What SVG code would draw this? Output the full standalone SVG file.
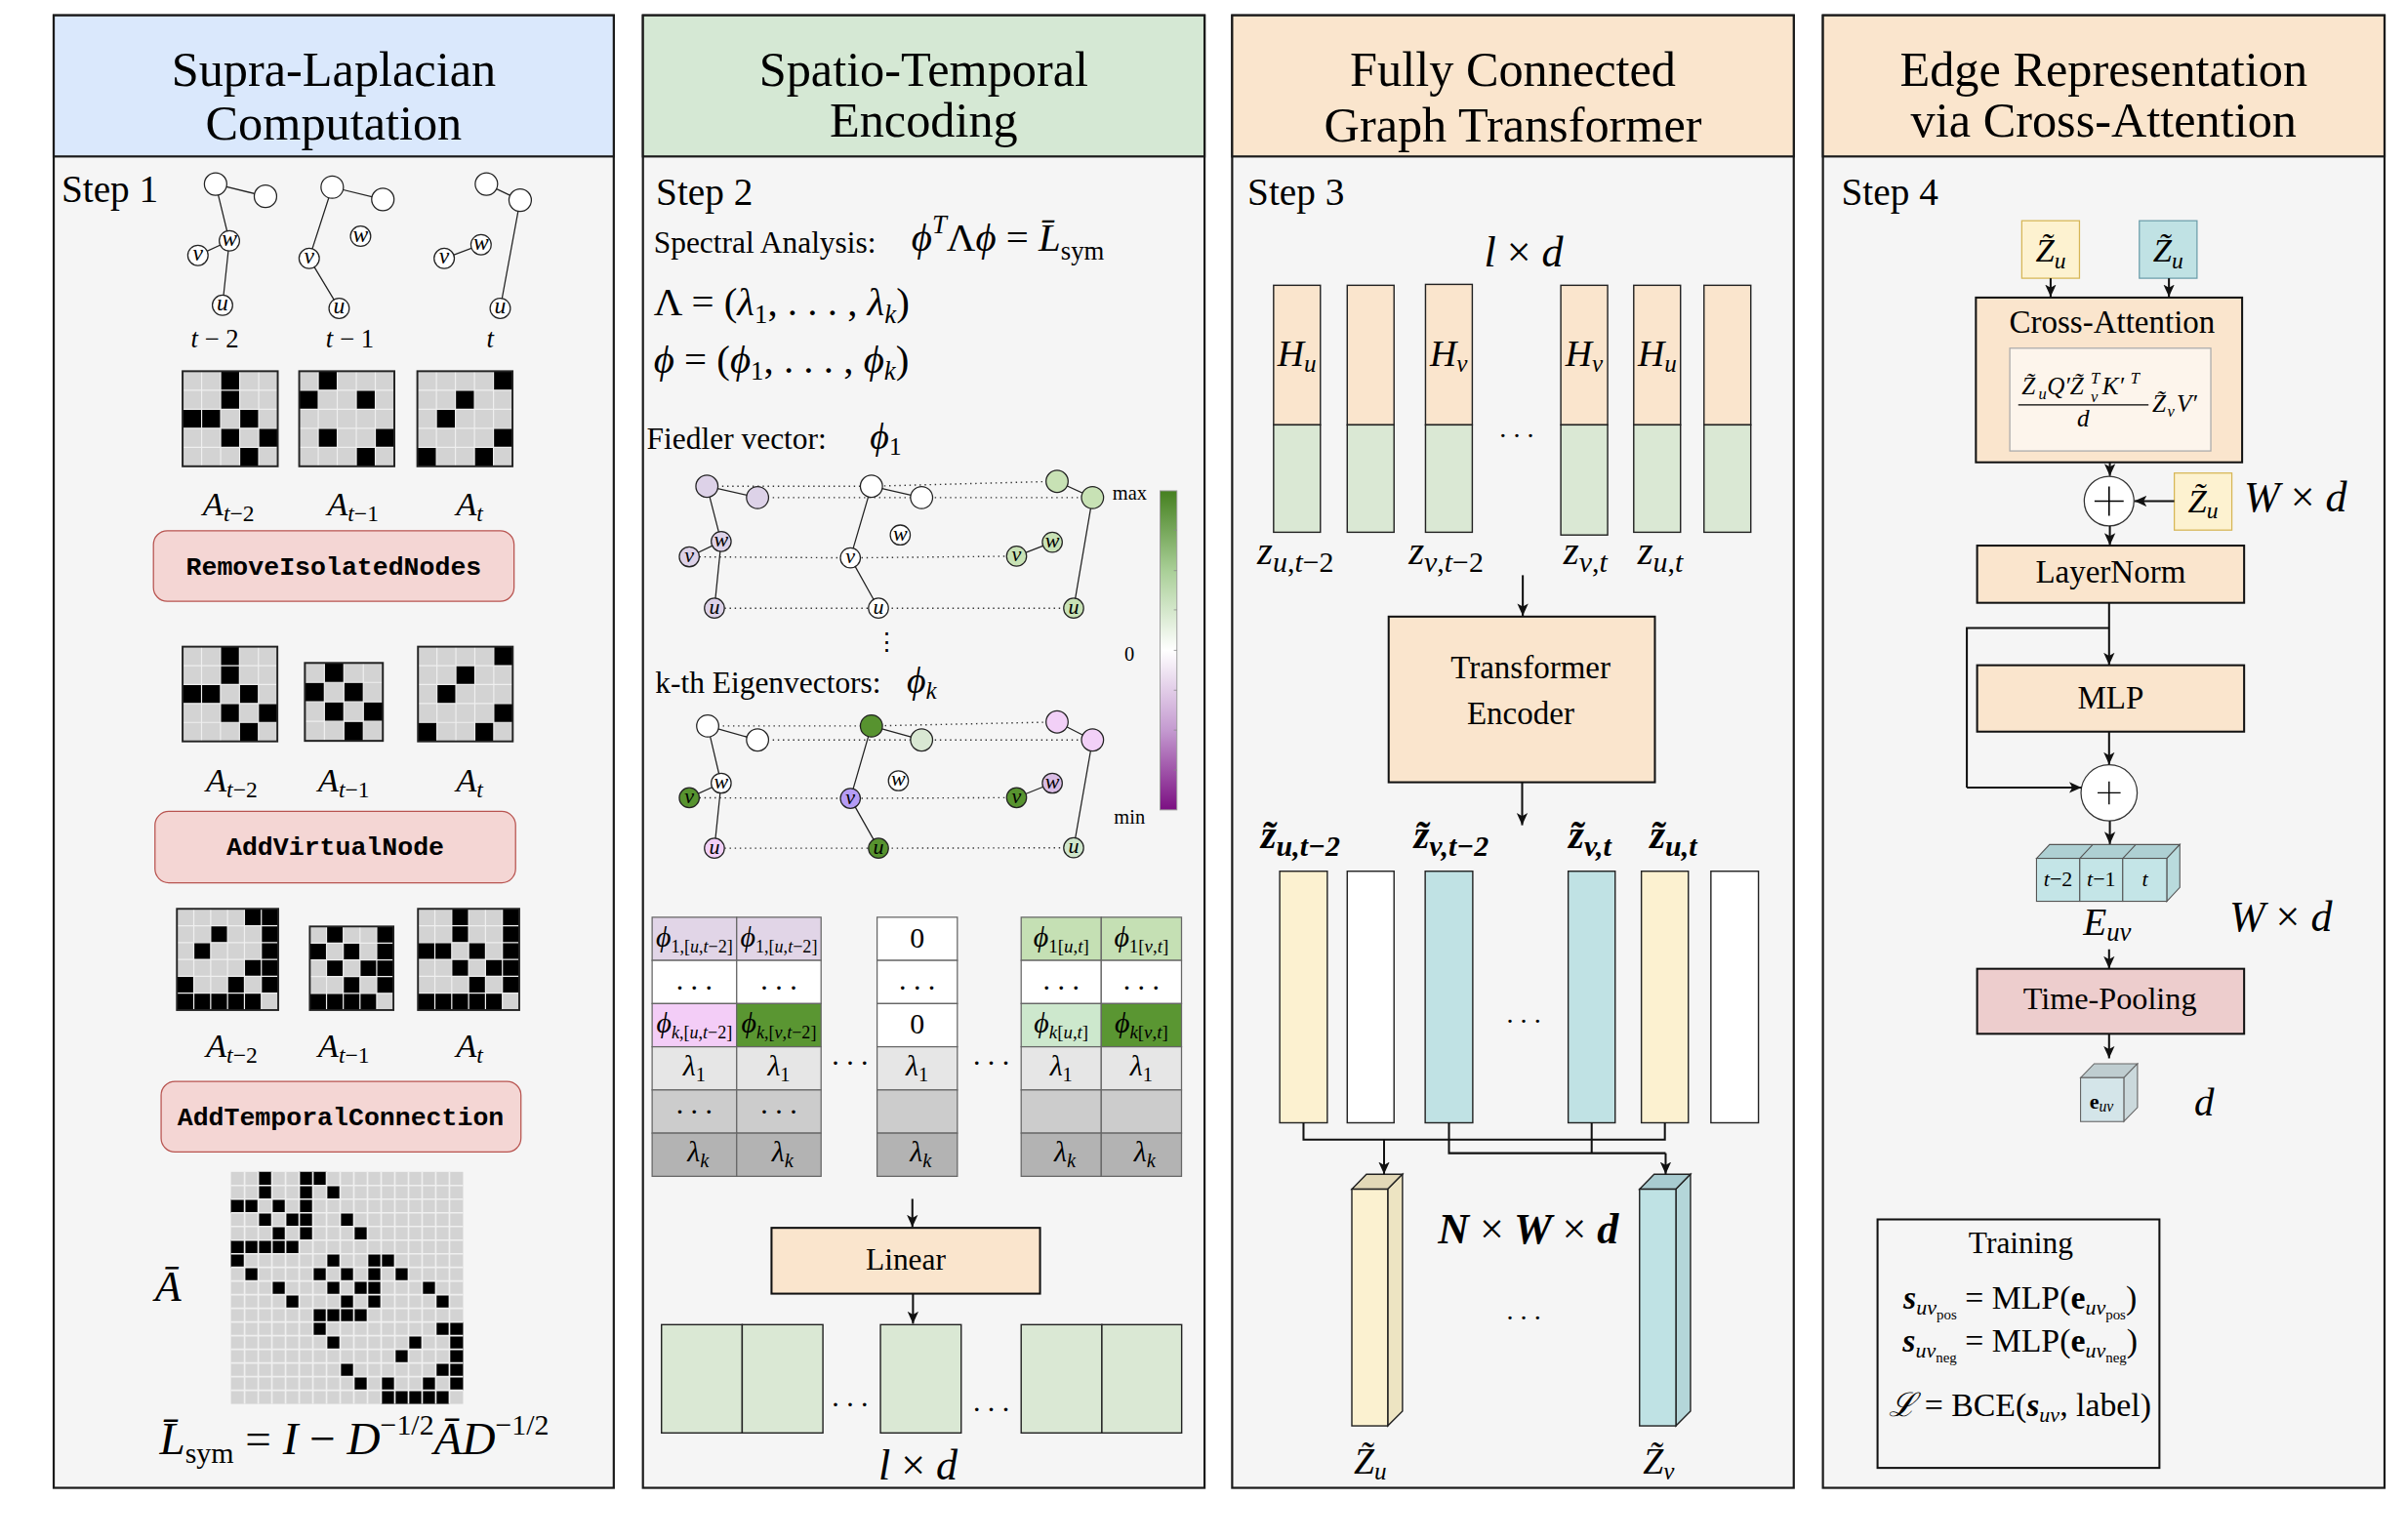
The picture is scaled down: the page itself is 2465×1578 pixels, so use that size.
<svg xmlns="http://www.w3.org/2000/svg" width="2465" height="1578" viewBox="0 0 2465 1578">
<defs>
<style>
.pbg{fill:#f5f5f5;stroke:#1a1a1a;stroke-width:1.4}
.hb{stroke:#1a1a1a;stroke-width:1.4}
text{font-family:"Liberation Serif","DejaVu Serif",serif;fill:#000}
.ht{font-size:32px;text-anchor:middle}
.st{font-size:25px}
.mono{font-family:"Liberation Mono","DejaVu Sans Mono",monospace;font-size:16.9px;font-weight:bold;text-anchor:middle}
.i{font-style:italic}
.bi{font-style:italic;font-weight:bold}
.n{font-style:normal}
.c{text-anchor:middle}
.nd{stroke:#222;stroke-width:0.8}
.ed{stroke:#222;stroke-width:0.8;fill:none}
.dt{stroke:#333;stroke-width:0.9;stroke-dasharray:0.9 2.4;fill:none}
.nl{font-size:15px;font-style:italic;text-anchor:middle}
.nl2{font-size:14px;font-style:italic;text-anchor:middle}
.pill{fill:#f4d6d4;stroke:#b85450;stroke-width:0.8}
.box{fill:#fae5cd;stroke:#111;stroke-width:1.3}
.ar{stroke:#111;stroke-width:1.3;fill:none;marker-end:url(#ah)}
.ln{stroke:#111;stroke-width:1.3;fill:none}
.gr{fill:#d3d3d3}
.bk{fill:#000}
.gl{stroke:#efefef;fill:none}
.mb{fill:none;stroke:#222}
.cell{stroke:#666;stroke-width:0.8}
.bar{stroke:#222;stroke-width:0.9}
.tc{font-size:19px;text-anchor:middle}
</style>
<marker id="ah" viewBox="0 0 10 10" refX="10" refY="5" markerWidth="8" markerHeight="8" markerUnits="userSpaceOnUse" orient="auto"><path d="M0,0.5 L10,5 L0,9.5 L2.5,5 z" fill="#111"/></marker>
<linearGradient id="cb" x1="0" y1="0" x2="0" y2="1">
<stop offset="0" stop-color="#45801f"/><stop offset="0.25" stop-color="#a9cf97"/><stop offset="0.5" stop-color="#ffffff"/><stop offset="0.75" stop-color="#c49ad0"/><stop offset="1" stop-color="#7b0f82"/>
</linearGradient>
</defs>
<rect width="2465" height="1578" fill="#ffffff"/>
<g transform="scale(1.57207,1.57171)">

<!-- PANEL 1 -->
<g id="panel1">
<rect class="pbg" x="35" y="10" width="365" height="960"/>
<rect class="hb" fill="#dae8fc" x="35" y="10" width="365" height="92"/>
<text class="ht" x="217.5" y="56">Supra-Laplacian</text>
<text class="ht" x="217.5" y="91">Computation</text>
<text class="st" x="40" y="132">Step 1</text>
</g>

<g id="graph-t-2">
<path class="ed" d="M140.5 120L173 128M140.5 120L149.5 157M149.5 157L129 166.5M149.5 157L145 199"/>
<circle class="nd" fill="#fff" cx="140.5" cy="120" r="7.3"/>
<circle class="nd" fill="#fff" cx="173" cy="128" r="7.3"/>
<circle class="nd" fill="#fff" cx="149.5" cy="157" r="6.6"/><text class="nl" x="149.5" y="160.5">w</text>
<circle class="nd" fill="#fff" cx="129" cy="166.5" r="6.6"/><text class="nl" x="129" y="170">v</text>
<circle class="nd" fill="#fff" cx="145" cy="199" r="6.6"/><text class="nl" x="145" y="202.5">u</text>
<text x="140" y="226.6" class="c" font-size="17"><tspan class="i">t</tspan> − 2</text>
</g>
<g id="graph-t-1">
<path class="ed" d="M216.5 122L249.5 130M216.5 122L201.5 168.5M201.5 168.5L221 201"/>
<circle class="nd" fill="#fff" cx="216.5" cy="122" r="7.3"/>
<circle class="nd" fill="#fff" cx="249.5" cy="130" r="7.3"/>
<circle class="nd" fill="#fff" cx="235" cy="154" r="6.6"/><text class="nl" x="235" y="157.5">w</text>
<circle class="nd" fill="#fff" cx="201.5" cy="168.5" r="6.6"/><text class="nl" x="201.5" y="172">v</text>
<circle class="nd" fill="#fff" cx="221" cy="201" r="6.6"/><text class="nl" x="221" y="204.5">u</text>
<text x="228" y="226.6" class="c" font-size="17"><tspan class="i">t</tspan> − 1</text>
</g>
<g id="graph-t">
<path class="ed" d="M317 120L339 130.5M339 130.5L326 201M289.5 168.5L313.5 159.5"/>
<circle class="nd" fill="#fff" cx="317" cy="120" r="7.3"/>
<circle class="nd" fill="#fff" cx="339" cy="130.5" r="7.3"/>
<circle class="nd" fill="#fff" cx="313.5" cy="159.5" r="6.6"/><text class="nl" x="313.5" y="163">w</text>
<circle class="nd" fill="#fff" cx="289.5" cy="168.5" r="6.6"/><text class="nl" x="289.5" y="172">v</text>
<circle class="nd" fill="#fff" cx="326" cy="201" r="6.6"/><text class="nl" x="326" y="204.5">u</text>
<text x="319.4" y="226.6" class="c i" font-size="17">t</text>
</g>

<g id="matrices-row1">
<g transform="translate(119,242) scale(12.4)">
<rect class="gr" width="5" height="5"/>
<path class="bk" d="M2 0h1v2h-1zM0 2h2v1h-2zM3 2h1v1h-1zM2 3h1v1h-1zM4 3h1v1h-1zM3 4h1v1h-1z"/>
<path class="gl" stroke-width="0.06" d="M0 1H5M0 2H5M0 3H5M0 4H5M1 0V5M2 0V5M3 0V5M4 0V5"/>
<rect class="mb" stroke-width="0.1" width="5" height="5"/>
</g>
<g transform="translate(195,242) scale(12.4)">
<rect class="gr" width="5" height="5"/>
<path class="bk" d="M1 0h1v1h-1zM0 1h1v1h-1zM3 1h1v1h-1zM1 3h1v1h-1zM4 3h1v1h-1zM3 4h1v1h-1z"/>
<path class="gl" stroke-width="0.06" d="M0 1H5M0 2H5M0 3H5M0 4H5M1 0V5M2 0V5M3 0V5M4 0V5"/>
<rect class="mb" stroke-width="0.1" width="5" height="5"/>
</g>
<g transform="translate(272,242) scale(12.4)">
<rect class="gr" width="5" height="5"/>
<path class="bk" d="M4 0h1v1h-1zM2 1h1v1h-1zM1 2h1v1h-1zM4 3h1v1h-1zM0 4h1v1h-1zM3 4h1v1h-1z"/>
<path class="gl" stroke-width="0.06" d="M0 1H5M0 2H5M0 3H5M0 4H5M1 0V5M2 0V5M3 0V5M4 0V5"/>
<rect class="mb" stroke-width="0.1" width="5" height="5"/>
</g>
<text x="149" y="336" class="c" font-size="22"><tspan class="i">A</tspan><tspan font-size="15" dy="4"><tspan class="i">t</tspan>−2</tspan></text>
<text x="230" y="336" class="c" font-size="22"><tspan class="i">A</tspan><tspan font-size="15" dy="4"><tspan class="i">t</tspan>−1</tspan></text>
<text x="306" y="336" class="c" font-size="22"><tspan class="i">A</tspan><tspan font-size="15" dy="4" class="i">t</tspan></text>
</g>

<g id="remove-isolated-nodes">
<rect class="pill" x="100" y="346" width="235" height="46" rx="9"/>
<text class="mono" x="217.5" y="375">RemoveIsolatedNodes</text>
</g>

<g id="matrices-row2">
<g transform="translate(119,421.6) scale(12.35)">
<rect class="gr" width="5" height="5"/>
<path class="bk" d="M2 0h1v2h-1zM0 2h2v1h-2zM3 2h1v1h-1zM2 3h1v1h-1zM4 3h1v1h-1zM3 4h1v1h-1z"/>
<path class="gl" stroke-width="0.06" d="M0 1H5M0 2H5M0 3H5M0 4H5M1 0V5M2 0V5M3 0V5M4 0V5"/>
<rect class="mb" stroke-width="0.1" width="5" height="5"/>
</g>
<g transform="translate(198.7,432.2) scale(12.7)">
<rect class="gr" width="4" height="4"/>
<path class="bk" d="M1 0h1v1h-1zM0 1h1v1h-1zM2 1h1v1h-1zM1 2h1v1h-1zM3 2h1v1h-1zM2 3h1v1h-1z"/>
<path class="gl" stroke-width="0.06" d="M0 1H4M0 2H4M0 3H4M1 0V4M2 0V4M3 0V4"/>
<rect class="mb" stroke-width="0.1" width="4" height="4"/>
</g>
<g transform="translate(272.4,421.6) scale(12.35)">
<rect class="gr" width="5" height="5"/>
<path class="bk" d="M4 0h1v1h-1zM2 1h1v1h-1zM1 2h1v1h-1zM4 3h1v1h-1zM0 4h1v1h-1zM3 4h1v1h-1z"/>
<path class="gl" stroke-width="0.06" d="M0 1H5M0 2H5M0 3H5M0 4H5M1 0V5M2 0V5M3 0V5M4 0V5"/>
<rect class="mb" stroke-width="0.1" width="5" height="5"/>
</g>
<text x="151" y="515.8" class="c" font-size="22"><tspan class="i">A</tspan><tspan font-size="15" dy="4"><tspan class="i">t</tspan>−2</tspan></text>
<text x="224" y="515.8" class="c" font-size="22"><tspan class="i">A</tspan><tspan font-size="15" dy="4"><tspan class="i">t</tspan>−1</tspan></text>
<text x="306" y="515.8" class="c" font-size="22"><tspan class="i">A</tspan><tspan font-size="15" dy="4" class="i">t</tspan></text>
</g>

<g id="add-virtual-node">
<rect class="pill" x="101" y="529" width="235" height="46.5" rx="9"/>
<text class="mono" x="218.5" y="557.5">AddVirtualNode</text>
</g>

<g id="matrices-row3">
<g transform="translate(115.3,592.5) scale(11)">
<rect class="gr" width="6" height="6"/>
<path class="bk" d="M4 0h2v1h-2zM2 1h1v1h-1zM5 1h1v1h-1zM1 2h1v1h-1zM5 2h1v1h-1zM4 3h2v1h-2zM0 4h1v1h-1zM3 4h1v1h-1zM5 4h1v1h-1zM0 5h5v1h-5z"/>
<path class="gl" stroke-width="0.07" d="M0 1H6M0 2H6M0 3H6M0 4H6M0 5H6M1 0V6M2 0V6M3 0V6M4 0V6M5 0V6"/>
<rect class="mb" stroke-width="0.11" width="6" height="6"/>
</g>
<g transform="translate(201.9,604) scale(10.9)">
<rect class="gr" width="5" height="5"/>
<path class="bk" d="M1 0h1v1h-1zM4 0h1v1h-1zM0 1h1v1h-1zM2 1h1v1h-1zM4 1h1v1h-1zM1 2h1v1h-1zM3 2h2v1h-2zM2 3h1v1h-1zM4 3h1v1h-1zM0 4h4v1h-4z"/>
<path class="gl" stroke-width="0.07" d="M0 1H5M0 2H5M0 3H5M0 4H5M1 0V5M2 0V5M3 0V5M4 0V5"/>
<rect class="mb" stroke-width="0.11" width="5" height="5"/>
</g>
<g transform="translate(272.4,592.5) scale(11)">
<rect class="gr" width="6" height="6"/>
<path class="bk" d="M2 0h1v2h-1zM5 0h1v3h-1zM0 2h2v1h-2zM3 2h1v1h-1zM2 3h1v1h-1zM4 3h2v1h-2zM3 4h1v1h-1zM5 4h1v1h-1zM0 5h5v1h-5z"/>
<path class="gl" stroke-width="0.07" d="M0 1H6M0 2H6M0 3H6M0 4H6M0 5H6M1 0V6M2 0V6M3 0V6M4 0V6M5 0V6"/>
<rect class="mb" stroke-width="0.11" width="6" height="6"/>
</g>
<text x="151" y="689" class="c" font-size="22"><tspan class="i">A</tspan><tspan font-size="15" dy="4"><tspan class="i">t</tspan>−2</tspan></text>
<text x="224" y="689" class="c" font-size="22"><tspan class="i">A</tspan><tspan font-size="15" dy="4"><tspan class="i">t</tspan>−1</tspan></text>
<text x="306" y="689" class="c" font-size="22"><tspan class="i">A</tspan><tspan font-size="15" dy="4" class="i">t</tspan></text>
</g>

<g id="add-temporal-connection">
<rect class="pill" x="105" y="705" width="234.5" height="46" rx="9"/>
<text class="mono" x="222" y="733.5">AddTemporalConnection</text>
</g>

<g id="supra-adjacency">
<g transform="translate(150.5,764) scale(8.9)">
<rect class="gr" width="17" height="17"/>
<path class="bk" d="M2 0h1v2h-1zM5 0h1v5h-1zM6 0h1v1h-1zM7 1h1v1h-1zM0 2h2v1h-2zM3 2h1v1h-1zM2 3h1v1h-1zM4 3h1v1h-1zM8 3h1v1h-1zM3 4h1v1h-1zM9 4h1v1h-1zM0 5h5v1h-5zM0 6h1v1h-1zM7 6h1v1h-1zM10 6h2v1h-2zM1 7h1v1h-1zM6 7h1v1h-1zM8 7h1v1h-1zM10 7h1v1h-1zM12 7h1v1h-1zM3 8h1v1h-1zM7 8h1v1h-1zM9 8h2v1h-2zM14 8h1v1h-1zM4 9h1v1h-1zM8 9h1v1h-1zM10 9h1v1h-1zM15 9h1v1h-1zM6 10h4v1h-4zM6 11h1v1h-1zM15 11h2v1h-2zM7 12h1v1h-1zM13 12h1v1h-1zM16 12h1v1h-1zM12 13h1v1h-1zM16 13h1v1h-1zM8 14h1v1h-1zM15 14h2v1h-2zM9 15h1v1h-1zM11 15h1v1h-1zM14 15h1v1h-1zM16 15h1v1h-1zM11 16h5v1h-5z"/>
<path class="gl" stroke-width="0.12" d="M0 1H17M0 2H17M0 3H17M0 4H17M0 5H17M0 6H17M0 7H17M0 8H17M0 9H17M0 10H17M0 11H17M0 12H17M0 13H17M0 14H17M0 15H17M0 16H17M1 0V17M2 0V17M3 0V17M4 0V17M5 0V17M6 0V17M7 0V17M8 0V17M9 0V17M10 0V17M11 0V17M12 0V17M13 0V17M14 0V17M15 0V17M16 0V17"/>
</g>
<text x="101" y="848" class="i" font-size="28">Ā</text>
<text x="104" y="948" font-size="30"><tspan class="i">L̄</tspan><tspan font-size="19" dy="6">sym</tspan><tspan dy="-6"> = </tspan><tspan class="i">I</tspan> − <tspan class="i">D</tspan><tspan font-size="19" dy="-13">−1/2</tspan><tspan dy="13" class="i">ĀD</tspan><tspan font-size="19" dy="-13">−1/2</tspan></text>
</g>

<!-- PANEL 2 -->
<g id="panel2">
<rect class="pbg" x="419" y="10" width="366" height="960"/>
<rect class="hb" fill="#d5e8d4" x="419" y="10" width="366" height="92"/>
<text class="ht" x="602" y="56">Spatio-Temporal</text>
<text class="ht" x="602" y="89">Encoding</text>
<text class="st" x="427.5" y="133.6">Step 2</text>
</g>

<g id="spectral-analysis">
<text x="426" y="165" font-size="20">Spectral Analysis:</text>
<text x="594" y="163.3" font-size="26"><tspan class="i">ϕ</tspan><tspan font-size="17" dy="-11" class="i">T</tspan><tspan dy="11">Λ</tspan><tspan class="i">ϕ</tspan> = <tspan class="i">L̄</tspan><tspan font-size="17" dy="6">sym</tspan></text>
<text x="426" y="205.6" font-size="26">Λ = (<tspan class="i">λ</tspan><tspan font-size="17" dy="5">1</tspan><tspan dy="-5">, . . . , </tspan><tspan class="i">λ</tspan><tspan font-size="17" dy="5" class="i">k</tspan><tspan dy="-5">)</tspan></text>
<text x="426" y="242.8" font-size="26"><tspan class="i">ϕ</tspan> = (<tspan class="i">ϕ</tspan><tspan font-size="17" dy="5">1</tspan><tspan dy="-5">, . . . , </tspan><tspan class="i">ϕ</tspan><tspan font-size="17" dy="5" class="i">k</tspan><tspan dy="-5">)</tspan></text>
</g>

<g id="fiedler-vector">
<text x="421.5" y="292.6" font-size="20">Fiedler vector:</text>
<text x="567" y="292.6" font-size="24"><tspan class="i">ϕ</tspan><tspan font-size="16" dy="4">1</tspan></text>
<path class="dt" d="M460.7 317L567.9 317L688.9 313.8M493.7 324.4L712 324.4M449.2 363L554.2 363.7L662.5 362.6M465.6 396.5L699.7 396.5"/>
<path class="ed" d="M460.7 317L493.7 324.4M460.7 317L470 353M470 353L449.2 363M470 353L465.6 396.5M567.9 317L600.6 324.4M567.9 317L554.2 363.7M554.2 363.7L572.5 396.5M688.9 313.8L712 324.4M712 324.4L699.7 396.5M662.5 362.6L685.8 353.5"/>
<circle class="nd" fill="#ddd2e8" cx="460.7" cy="317" r="7.2"/>
<circle class="nd" fill="#ddd2e8" cx="493.7" cy="324.4" r="7.2"/>
<circle class="nd" fill="#ddd2e8" cx="470" cy="353" r="6.5"/><text class="nl2" x="470" y="356.5">w</text>
<circle class="nd" fill="#ddd2e8" cx="449.2" cy="363" r="6.5"/><text class="nl2" x="449.2" y="366.5">v</text>
<circle class="nd" fill="#ddd2e8" cx="465.6" cy="396.5" r="6.5"/><text class="nl2" x="465.6" y="400">u</text>
<circle class="nd" fill="#fff" cx="567.9" cy="317" r="7.2"/>
<circle class="nd" fill="#fff" cx="600.6" cy="324.4" r="7.2"/>
<circle class="nd" fill="#fff" cx="586.7" cy="348.8" r="6.5"/><text class="nl2" x="586.7" y="352.3">w</text>
<circle class="nd" fill="#fff" cx="554.2" cy="363.7" r="6.5"/><text class="nl2" x="554.2" y="367.2">v</text>
<circle class="nd" fill="#fff" cx="572.5" cy="396.5" r="6.5"/><text class="nl2" x="572.5" y="400">u</text>
<circle class="nd" fill="#c8e2b5" cx="688.9" cy="313.8" r="7.2"/>
<circle class="nd" fill="#c8e2b5" cx="712" cy="324.4" r="7.2"/>
<circle class="nd" fill="#c8e2b5" cx="685.8" cy="353.5" r="6.5"/><text class="nl2" x="685.8" y="357">w</text>
<circle class="nd" fill="#c8e2b5" cx="662.5" cy="362.6" r="6.5"/><text class="nl2" x="662.5" y="366.1">v</text>
<circle class="nd" fill="#c8e2b5" cx="699.7" cy="396.5" r="6.5"/><text class="nl2" x="699.7" y="400">u</text>
<text x="578" y="424" class="c" font-size="16">⋮</text>
</g>

<g id="colorbar">
<rect x="756" y="320" width="11" height="208" fill="url(#cb)" stroke="#999" stroke-width="0.6"/>
<path stroke="#888" stroke-width="0.5" d="M765 345.6H767M765 372H767M765 397.6H767M765 424H767M765 450H767M765 476H767M765 502H767"/>
<text x="725" y="325.5" font-size="13">max</text>
<text x="736" y="431" class="c" font-size="13">0</text>
<text x="726" y="537" font-size="13">min</text>
</g>

<g id="kth-eigenvectors">
<text x="427" y="451.6" font-size="20">k-th Eigenvectors:</text>
<text x="591" y="451.6" font-size="24"><tspan class="i">ϕ</tspan><tspan font-size="16" dy="4" class="i">k</tspan></text>
<path class="dt" d="M461.2 473.3L567.9 473.3L688.9 470.7M493.7 482.4L712 482.4M449.2 520.1L554.2 520.5L662.5 520M465.6 553L572.5 553L699.7 552.7"/>
<path class="ed" d="M461.2 473.3L493.7 482.4M461.2 473.3L470 510.6M470 510.6L449.2 520.1M470 510.6L465.6 553M567.9 473.3L600.6 482.4M567.9 473.3L554.2 520.5M554.2 520.5L572.5 553M688.9 470.7L712 482.4M712 482.4L699.7 552.7M662.5 520L685.8 510.6"/>
<circle class="nd" fill="#fff" cx="461.2" cy="473.3" r="7.2"/>
<circle class="nd" fill="#fff" cx="493.7" cy="482.4" r="7.2"/>
<circle class="nd" fill="#fff" cx="470" cy="510.6" r="6.5"/><text class="nl2" x="470" y="514.1">w</text>
<circle class="nd" fill="#57932f" cx="449.2" cy="520.1" r="6.5"/><text class="nl2" x="449.2" y="523.6">v</text>
<circle class="nd" fill="#f2d0f7" cx="465.6" cy="553" r="6.5"/><text class="nl2" x="465.6" y="556.5">u</text>
<circle class="nd" fill="#57932f" cx="567.9" cy="473.3" r="7.2"/>
<circle class="nd" fill="#d9e8d3" cx="600.6" cy="482.4" r="7.2"/>
<circle class="nd" fill="#fff" cx="585.5" cy="509" r="6.5"/><text class="nl2" x="585.5" y="512.5">w</text>
<circle class="nd" fill="#b59cf5" cx="554.2" cy="520.5" r="6.5"/><text class="nl2" x="554.2" y="524">v</text>
<circle class="nd" fill="#57932f" cx="572.5" cy="553" r="6.5"/><text class="nl2" x="572.5" y="556.5">u</text>
<circle class="nd" fill="#f2d0f7" cx="688.9" cy="470.7" r="7.2"/>
<circle class="nd" fill="#f2d0f7" cx="712" cy="482.4" r="7.2"/>
<circle class="nd" fill="#d9bce4" cx="685.8" cy="510.6" r="6.5"/><text class="nl2" x="685.8" y="514.1">w</text>
<circle class="nd" fill="#57932f" cx="662.5" cy="520" r="6.5"/><text class="nl2" x="662.5" y="523.5">v</text>
<circle class="nd" fill="#cfe6cb" cx="699.7" cy="552.7" r="6.5"/><text class="nl2" x="699.7" y="556.2">u</text>
</g>

<g id="encoding-table-left">
<rect class="cell" fill="#e1d5e7" x="425" y="598" width="55.1" height="28.15"/>
<rect class="cell" fill="#e1d5e7" x="480.1" y="598" width="55" height="28.15"/>
<rect class="cell" fill="#fff" x="425" y="626.15" width="55.1" height="28.15"/>
<rect class="cell" fill="#fff" x="480.1" y="626.15" width="55" height="28.15"/>
<rect class="cell" fill="#f3cdf7" x="425" y="654.3" width="55.1" height="28.15"/>
<rect class="cell" fill="#5a9632" x="480.1" y="654.3" width="55" height="28.15"/>
<rect class="cell" fill="#e6e6e6" x="425" y="682.45" width="55.1" height="28.15"/>
<rect class="cell" fill="#e6e6e6" x="480.1" y="682.45" width="55" height="28.15"/>
<rect class="cell" fill="#cccccc" x="425" y="710.6" width="55.1" height="28.15"/>
<rect class="cell" fill="#cccccc" x="480.1" y="710.6" width="55" height="28.15"/>
<rect class="cell" fill="#b3b3b3" x="425" y="738.75" width="55.1" height="28.15"/>
<rect class="cell" fill="#b3b3b3" x="480.1" y="738.75" width="55" height="28.15"/>
<text class="tc" x="452.5" y="617"><tspan class="i">ϕ</tspan><tspan font-size="11.5" dy="4">1,[<tspan class="i">u</tspan>,<tspan class="i">t</tspan>−2]</tspan></text>
<text class="tc" x="507.6" y="617"><tspan class="i">ϕ</tspan><tspan font-size="11.5" dy="4">1,[<tspan class="i">u</tspan>,<tspan class="i">t</tspan>−2]</tspan></text>
<text class="tc" x="452.5" y="645">. . .</text>
<text class="tc" x="507.6" y="645">. . .</text>
<text class="tc" x="452.5" y="673"><tspan class="i">ϕ</tspan><tspan font-size="11.5" dy="4"><tspan class="i">k</tspan>,[<tspan class="i">u</tspan>,<tspan class="i">t</tspan>−2]</tspan></text>
<text class="tc" x="507.6" y="673"><tspan class="i">ϕ</tspan><tspan font-size="11.5" dy="4"><tspan class="i">k</tspan>,[<tspan class="i">v</tspan>,<tspan class="i">t</tspan>−2]</tspan></text>
<text class="tc" x="452.5" y="701"><tspan class="i">λ</tspan><tspan font-size="13" dy="4">1</tspan></text>
<text class="tc" x="507.6" y="701"><tspan class="i">λ</tspan><tspan font-size="13" dy="4">1</tspan></text>
<text class="tc" x="452.5" y="726">. . .</text>
<text class="tc" x="507.6" y="726">. . .</text>
<text class="tc" x="455" y="757"><tspan class="i">λ</tspan><tspan font-size="13" dy="4" class="i">k</tspan></text>
<text class="tc" x="510" y="757"><tspan class="i">λ</tspan><tspan font-size="13" dy="4" class="i">k</tspan></text>
</g>
<g id="encoding-table-mid">
<rect class="cell" fill="#fff" x="571.6" y="598" width="52.3" height="28.15"/>
<rect class="cell" fill="#fff" x="571.6" y="626.15" width="52.3" height="28.15"/>
<rect class="cell" fill="#fff" x="571.6" y="654.3" width="52.3" height="28.15"/>
<rect class="cell" fill="#e6e6e6" x="571.6" y="682.45" width="52.3" height="28.15"/>
<rect class="cell" fill="#cccccc" x="571.6" y="710.6" width="52.3" height="28.15"/>
<rect class="cell" fill="#b3b3b3" x="571.6" y="738.75" width="52.3" height="28.15"/>
<text class="tc" x="597.7" y="618">0</text>
<text class="tc" x="597.7" y="645">. . .</text>
<text class="tc" x="597.7" y="674">0</text>
<text class="tc" x="597.7" y="701"><tspan class="i">λ</tspan><tspan font-size="13" dy="4">1</tspan></text>
<text class="tc" x="600" y="757"><tspan class="i">λ</tspan><tspan font-size="13" dy="4" class="i">k</tspan></text>
</g>
<g id="encoding-table-right">
<rect class="cell" fill="#c5e0b4" x="665.5" y="598" width="52.2" height="28.15"/>
<rect class="cell" fill="#c5e0b4" x="717.7" y="598" width="52.3" height="28.15"/>
<rect class="cell" fill="#fff" x="665.5" y="626.15" width="52.2" height="28.15"/>
<rect class="cell" fill="#fff" x="717.7" y="626.15" width="52.3" height="28.15"/>
<rect class="cell" fill="#cde8cd" x="665.5" y="654.3" width="52.2" height="28.15"/>
<rect class="cell" fill="#5a9632" x="717.7" y="654.3" width="52.3" height="28.15"/>
<rect class="cell" fill="#e6e6e6" x="665.5" y="682.45" width="52.2" height="28.15"/>
<rect class="cell" fill="#e6e6e6" x="717.7" y="682.45" width="52.3" height="28.15"/>
<rect class="cell" fill="#cccccc" x="665.5" y="710.6" width="52.2" height="28.15"/>
<rect class="cell" fill="#cccccc" x="717.7" y="710.6" width="52.3" height="28.15"/>
<rect class="cell" fill="#b3b3b3" x="665.5" y="738.75" width="52.2" height="28.15"/>
<rect class="cell" fill="#b3b3b3" x="717.7" y="738.75" width="52.3" height="28.15"/>
<text class="tc" x="691.6" y="617"><tspan class="i">ϕ</tspan><tspan font-size="12" dy="4">1[<tspan class="i">u</tspan>,<tspan class="i">t</tspan>]</tspan></text>
<text class="tc" x="743.8" y="617"><tspan class="i">ϕ</tspan><tspan font-size="12" dy="4">1[<tspan class="i">v</tspan>,<tspan class="i">t</tspan>]</tspan></text>
<text class="tc" x="691.6" y="645">. . .</text>
<text class="tc" x="743.8" y="645">. . .</text>
<text class="tc" x="691.6" y="673"><tspan class="i">ϕ</tspan><tspan font-size="12" dy="4"><tspan class="i">k</tspan>[<tspan class="i">u</tspan>,<tspan class="i">t</tspan>]</tspan></text>
<text class="tc" x="743.8" y="673"><tspan class="i">ϕ</tspan><tspan font-size="12" dy="4"><tspan class="i">k</tspan>[<tspan class="i">v</tspan>,<tspan class="i">t</tspan>]</tspan></text>
<text class="tc" x="691.6" y="701"><tspan class="i">λ</tspan><tspan font-size="13" dy="4">1</tspan></text>
<text class="tc" x="743.8" y="701"><tspan class="i">λ</tspan><tspan font-size="13" dy="4">1</tspan></text>
<text class="tc" x="694" y="757"><tspan class="i">λ</tspan><tspan font-size="13" dy="4" class="i">k</tspan></text>
<text class="tc" x="746" y="757"><tspan class="i">λ</tspan><tspan font-size="13" dy="4" class="i">k</tspan></text>
</g>
<text class="tc" x="554" y="694">. . .</text>
<text class="tc" x="646" y="694">. . .</text>

<g id="linear">
<rect class="box" x="502.8" y="800.5" width="175" height="42.9"/>
<text x="590.3" y="828" class="c" font-size="20">Linear</text>
</g>

<g id="encoded-tokens">
<rect class="bar" fill="#dae8d4" x="431.1" y="863.6" width="52.6" height="70.6"/>
<rect class="bar" fill="#dae8d4" x="483.7" y="863.6" width="52.6" height="70.6"/>
<rect class="bar" fill="#dae8d4" x="573.8" y="863.6" width="52.6" height="70.6"/>
<rect class="bar" fill="#dae8d4" x="665.5" y="863.6" width="52.6" height="70.6"/>
<rect class="bar" fill="#dae8d4" x="718.1" y="863.6" width="52" height="70.6"/>
<text class="tc" x="554" y="917">. . .</text>
<text class="tc" x="646" y="920">. . .</text>
<text x="598.3" y="964.5" class="c" font-size="28"><tspan class="i">l</tspan> × <tspan class="i">d</tspan></text>
</g>

<!-- PANEL 3 -->
<g id="panel3">
<rect class="pbg" x="803" y="10" width="366" height="960"/>
<rect class="hb" fill="#fae5cd" x="803" y="10" width="366" height="92"/>
<text class="ht" x="986" y="56">Fully Connected</text>
<text class="ht" x="986" y="92">Graph Transformer</text>
<text class="st" x="813" y="133.6">Step 3</text>
<text x="993" y="173.4" class="c" font-size="28"><tspan class="i">l</tspan> × <tspan class="i">d</tspan></text>
</g>

<g id="input-tokens">
<rect class="bar" fill="#fae5cd" x="830" y="186" width="30.5" height="91"/><rect class="bar" fill="#dae8d4" x="830" y="277" width="30.5" height="70"/>
<rect class="bar" fill="#fae5cd" x="878" y="186" width="30.5" height="91"/><rect class="bar" fill="#dae8d4" x="878" y="277" width="30.5" height="70"/>
<rect class="bar" fill="#fae5cd" x="929" y="185.4" width="30.5" height="91.6"/><rect class="bar" fill="#dae8d4" x="929" y="277" width="30.5" height="70"/>
<rect class="bar" fill="#fae5cd" x="1017.2" y="186" width="30.5" height="91"/><rect class="bar" fill="#dae8d4" x="1017.2" y="277" width="30.5" height="71.8"/>
<rect class="bar" fill="#fae5cd" x="1064.7" y="186" width="30.5" height="91"/><rect class="bar" fill="#dae8d4" x="1064.7" y="277" width="30.5" height="70"/>
<rect class="bar" fill="#fae5cd" x="1110.5" y="186" width="30.5" height="91"/><rect class="bar" fill="#dae8d4" x="1110.5" y="277" width="30.5" height="70"/>
<text x="845.2" y="238.5" class="c" font-size="24"><tspan class="i">H</tspan><tspan font-size="16" dy="4" class="i">u</tspan></text>
<text x="944.2" y="238.5" class="c" font-size="24"><tspan class="i">H</tspan><tspan font-size="16" dy="4" class="i">v</tspan></text>
<text x="1032.4" y="238.5" class="c" font-size="24"><tspan class="i">H</tspan><tspan font-size="16" dy="4" class="i">v</tspan></text>
<text x="1080" y="238.5" class="c" font-size="24"><tspan class="i">H</tspan><tspan font-size="16" dy="4" class="i">u</tspan></text>
<text x="988.5" y="285" class="c" font-size="18">. . .</text>
<text x="844.3" y="367.7" class="c" font-size="26"><tspan class="i">z</tspan><tspan font-size="19" dy="5"><tspan class="i">u</tspan>,<tspan class="i">t</tspan>−2</tspan></text>
<text x="942.4" y="367.7" class="c" font-size="26"><tspan class="i">z</tspan><tspan font-size="19" dy="5"><tspan class="i">v</tspan>,<tspan class="i">t</tspan></tspan><tspan font-size="19">−2</tspan></text>
<text x="1033.2" y="367.7" class="c" font-size="26"><tspan class="i">z</tspan><tspan font-size="19" dy="5"><tspan class="i">v</tspan>,<tspan class="i">t</tspan></tspan></text>
<text x="1082" y="367.7" class="c" font-size="26"><tspan class="i">z</tspan><tspan font-size="19" dy="5"><tspan class="i">u</tspan>,<tspan class="i">t</tspan></tspan></text>
</g>

<g id="transformer-encoder">
<rect class="box" x="905" y="402" width="173.5" height="108"/>
<text x="997.5" y="442" class="c" font-size="21">Transformer</text>
<text x="991" y="472" class="c" font-size="21">Encoder</text>
</g>

<g id="output-tokens">
<text x="847.5" y="552.7" class="c bi" font-size="26">z̃<tspan font-size="19" dy="5">u,t−2</tspan></text>
<text x="945.8" y="552.7" class="c bi" font-size="26">z̃<tspan font-size="19" dy="5">v,t−2</tspan></text>
<text x="1036.2" y="552.7" class="c bi" font-size="26">z̃<tspan font-size="19" dy="5">v,t</tspan></text>
<text x="1090.5" y="552.7" class="c bi" font-size="26">z̃<tspan font-size="19" dy="5">u,t</tspan></text>
<rect class="bar" fill="#fcf1d0" x="834" y="568" width="31" height="164"/>
<rect class="bar" fill="#ffffff" x="878" y="568" width="30.5" height="164"/>
<rect class="bar" fill="#c0e2e4" x="928.8" y="568" width="31" height="164"/>
<rect class="bar" fill="#c0e2e4" x="1022" y="568" width="30.6" height="164"/>
<rect class="bar" fill="#fcf1d0" x="1069.7" y="568" width="30.6" height="164"/>
<rect class="bar" fill="#ffffff" x="1115" y="568" width="31" height="164"/>
<text x="993" y="667" class="c" font-size="18">. . .</text>
</g>

<g id="Zu-tensor">
<polygon points="881,775.3 890.5,765.6 914,765.6 904.4,775.3" fill="#e3d9b8" stroke="#222" stroke-width="0.9"/>
<polygon points="904.4,775.3 914,765.6 914,920 904.4,929.6" fill="#ede4c2" stroke="#222" stroke-width="0.9"/>
<rect x="881" y="775.3" width="23.4" height="154.3" fill="#fbf1d0" stroke="#222" stroke-width="0.9"/>
<text x="893" y="960.5" class="c" font-size="24"><tspan class="i">Z̃</tspan><tspan font-size="16" dy="4" class="i">u</tspan></text>
</g>
<g id="Zv-tensor">
<polygon points="1068.5,775.3 1078,765.6 1101.7,765.6 1092.2,775.3" fill="#a8cbd0" stroke="#222" stroke-width="0.9"/>
<polygon points="1092.2,775.3 1101.7,765.6 1101.7,920 1092.2,929.6" fill="#b4d6d9" stroke="#222" stroke-width="0.9"/>
<rect x="1068.5" y="775.3" width="23.7" height="154.3" fill="#bfe2e4" stroke="#222" stroke-width="0.9"/>
<text x="1081" y="960.5" class="c" font-size="24"><tspan class="i">Z̃</tspan><tspan font-size="16" dy="4" class="i">v</tspan></text>
</g>
<text x="996" y="810.6" class="c bi" font-size="28">N <tspan class="n" font-weight="normal">×</tspan> W <tspan class="n" font-weight="normal">×</tspan> d</text>
<text x="993" y="860" class="c" font-size="18">. . .</text>

<!-- PANEL 4 -->
<g id="panel4">
<rect class="pbg" x="1188" y="10" width="366" height="960"/>
<rect class="hb" fill="#fae5cd" x="1188" y="10" width="366" height="92"/>
<text class="ht" x="1371" y="56">Edge Representation</text>
<text class="ht" x="1371" y="89">via Cross-Attention</text>
<text class="st" x="1200" y="133.6">Step 4</text>
</g>

<g id="Zu-input">
<rect x="1317.6" y="143.9" width="37.6" height="37.5" fill="#fdf2d0" stroke="#d6b656" stroke-width="0.8"/>
<text x="1336.4" y="170.8" class="c" font-size="22"><tspan class="i">Z̃</tspan><tspan font-size="15" dy="4" class="i">u</tspan></text>
</g>
<g id="Zv-input">
<rect x="1394.2" y="143.9" width="37.6" height="37.5" fill="#c0e2e4" stroke="#6c9eab" stroke-width="0.8"/>
<text x="1413" y="170.8" class="c" font-size="22"><tspan class="i">Z̃</tspan><tspan font-size="15" dy="4" class="i">u</tspan></text>
</g>

<g id="cross-attention">
<rect class="box" x="1287.7" y="194" width="173.5" height="107.4"/>
<text x="1376.5" y="217.2" class="c" font-size="21">Cross-Attention</text>
<rect x="1309.8" y="227" width="131" height="67" fill="#fdf5ec" stroke="#aaa" stroke-width="0.8"/>
<text x="1317.5" y="257" class="i" font-size="16">Z̃</text>
<text x="1328.5" y="260" class="i" font-size="10.5">u</text>
<text x="1334" y="257" class="i" font-size="16">Q′Z̃</text>
<text x="1362.5" y="250" class="i" font-size="10.5">T</text>
<text x="1362.5" y="262" class="i" font-size="10.5">v</text>
<text x="1370" y="257" class="i" font-size="16">K′</text>
<text x="1388.5" y="250" class="i" font-size="10.5">T</text>
<line x1="1315.3" y1="264" x2="1400.2" y2="264" stroke="#000" stroke-width="0.8"/>
<text x="1357.7" y="278.2" class="c i" font-size="16">d</text>
<text x="1402.6" y="268.5" class="i" font-size="16">Z̃</text>
<text x="1412.5" y="271.5" class="i" font-size="10.5">v</text>
<text x="1418.5" y="268.5" class="i" font-size="16">V′</text>
</g>

<g id="add-1">
<circle cx="1374.5" cy="326.7" r="16.2" fill="#fff" stroke="#333" stroke-width="0.8"/>
<path d="M1365 326.7H1384M1374.5 317.2V336.2" stroke="#000" stroke-width="1"/>
</g>
<g id="Zu-residual">
<rect x="1417" y="308.4" width="37.5" height="37.2" fill="#fdf2d0" stroke="#d6b656" stroke-width="0.8"/>
<text x="1435.7" y="334" class="c" font-size="22"><tspan class="i">Z̃</tspan><tspan font-size="15" dy="4" class="i">u</tspan></text>
</g>
<text x="1462.4" y="333.4" font-size="28"><tspan class="i">W</tspan> × <tspan class="i">d</tspan></text>

<g id="layernorm">
<rect class="box" x="1288.5" y="355.7" width="174" height="37.3"/>
<text x="1375.5" y="380" class="c" font-size="21">LayerNorm</text>
</g>
<g id="mlp">
<rect class="box" x="1288.5" y="433.7" width="174" height="43.3"/>
<text x="1375.5" y="462" class="c" font-size="21">MLP</text>
</g>
<g id="add-2">
<circle cx="1374.5" cy="516.9" r="18.3" fill="#fff" stroke="#333" stroke-width="0.8"/>
<path d="M1367 516.9H1382M1374.5 509.4V524.4" stroke="#000" stroke-width="0.9"/>
</g>

<g id="E-uv">
<polygon points="1327.2,559.6 1335.7,550.6 1420.6,550.6 1412.1,559.6" fill="#aed0d3" stroke="#555" stroke-width="0.7"/>
<polygon points="1412.1,559.6 1420.6,550.6 1420.6,578.6 1412.1,587.6" fill="#b9dbdd" stroke="#555" stroke-width="0.7"/>
<rect x="1327.2" y="559.6" width="28.2" height="28" fill="#c4e5e7" stroke="#555" stroke-width="0.7"/>
<rect x="1355.4" y="559.6" width="28" height="28" fill="#c4e5e7" stroke="#555" stroke-width="0.7"/>
<rect x="1383.4" y="559.6" width="28.7" height="28" fill="#c4e5e7" stroke="#555" stroke-width="0.7"/>
<path d="M1355.4 559.6L1363.9 550.6M1383.4 559.6L1391.9 550.6" stroke="#555" stroke-width="0.7"/>
<text x="1341.3" y="578" class="c" font-size="14"><tspan class="i">t</tspan>−2</text>
<text x="1369.4" y="578" class="c" font-size="14"><tspan class="i">t</tspan>−1</text>
<text x="1397.8" y="578" class="c i" font-size="14">t</text>
<text x="1357.6" y="609.4" font-size="25"><tspan class="i">E</tspan><tspan font-size="17" dy="4" class="i">uv</tspan></text>
</g>
<text x="1452.8" y="607.3" font-size="28"><tspan class="i">W</tspan> × <tspan class="i">d</tspan></text>

<g id="time-pooling">
<rect x="1288.5" y="631.6" width="174" height="42.4" fill="#edcdcd" stroke="#111" stroke-width="1.3"/>
<text x="1375" y="658.1" class="c" font-size="20.5">Time-Pooling</text>
</g>

<g id="e-uv">
<polygon points="1355.9,702.6 1364.8,693.5 1393,693.5 1384.1,702.6" fill="#bfcdd0" stroke="#666" stroke-width="0.7"/>
<polygon points="1384.1,702.6 1393,693.5 1393,722 1384.1,731.2" fill="#cbd9dc" stroke="#666" stroke-width="0.7"/>
<rect x="1355.9" y="702.6" width="28.2" height="28.6" fill="#d4e5e9" stroke="#666" stroke-width="0.7"/>
<text x="1369.5" y="722.7" class="c" font-size="14"><tspan font-weight="bold">e</tspan><tspan class="i" font-size="10" dy="2">uv</tspan></text>
</g>
<text x="1430" y="727" class="i" font-size="26">d</text>

<g id="training">
<rect x="1223.6" y="795" width="183.7" height="162" fill="none" stroke="#111" stroke-width="1.3"/>
<text x="1317" y="817.1" class="c" font-size="20">Training</text>
<text x="1316.5" y="853" class="c" font-size="21.5"><tspan class="bi">s</tspan><tspan class="i" font-size="14" dy="4">uv</tspan><tspan font-size="9.5" dy="3">pos</tspan><tspan dy="-7"> = MLP(</tspan><tspan font-weight="bold">e</tspan><tspan class="i" font-size="14" dy="4">uv</tspan><tspan font-size="9.5" dy="3">pos</tspan><tspan dy="-7">)</tspan></text>
<text x="1316.5" y="881.3" class="c" font-size="21.5"><tspan class="bi">s</tspan><tspan class="i" font-size="14" dy="4">uv</tspan><tspan font-size="9.5" dy="3">neg</tspan><tspan dy="-7"> = MLP(</tspan><tspan font-weight="bold">e</tspan><tspan class="i" font-size="14" dy="4">uv</tspan><tspan font-size="9.5" dy="3">neg</tspan><tspan dy="-7">)</tspan></text>
<text x="1316.5" y="923.3" class="c" font-size="21.5"><tspan class="i">ℒ</tspan> = BCE(<tspan class="bi">s</tspan><tspan class="i" font-size="14" dy="4">uv</tspan><tspan dy="-4">, label)</tspan></text>
</g>

<!-- CONNECTORS -->
<g id="connectors">
<path class="ar" d="M594.6 781.6V800"/>
<path class="ar" d="M595 843.4V863"/>
<path class="ar" d="M992.4 375V401.5"/>
<path class="ar" d="M992 510V538"/>
<path class="ln" d="M849.5 732V743H1085V732"/>
<path class="ar" d="M902 743V765.5"/>
<path class="ln" d="M944.3 732V751.8H1085.5M1037.3 732V751.8"/>
<path class="ar" d="M1085.5 751.8V765.5"/>
<path class="ar" d="M1336.4 181.4V193.5"/>
<path class="ar" d="M1413.5 181.4V193.5"/>
<path class="ar" d="M1375 301.4V310.3"/>
<path class="ar" d="M1417 326.7H1391"/>
<path class="ar" d="M1375 342.9V355.5"/>
<path class="ar" d="M1374.5 393V433.5"/>
<path class="ln" d="M1374.5 409.4H1281.8V513.4"/>
<path class="ar" d="M1281.8 513.4H1356.5"/>
<path class="ar" d="M1374.5 477V498.4"/>
<path class="ar" d="M1375 535.2V550.3"/>
<path class="ar" d="M1374.5 618.9V631.4"/>
<path class="ar" d="M1374.5 674V690"/>
</g>
</g>
</svg>
